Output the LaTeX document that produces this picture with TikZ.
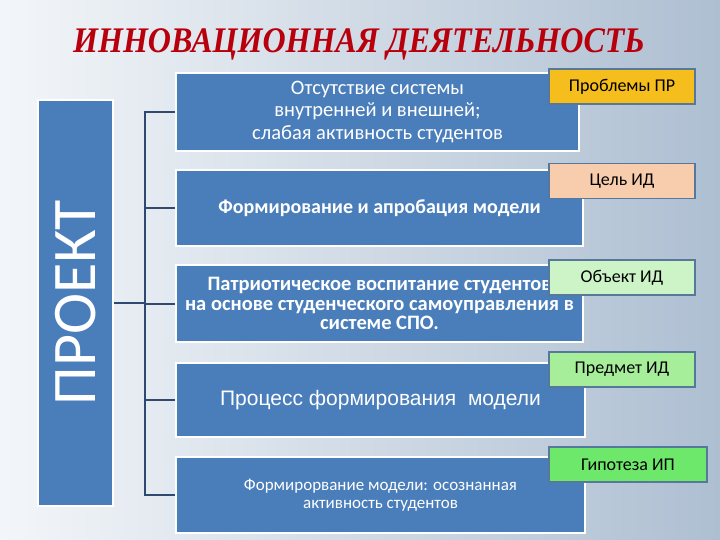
\documentclass[tikz,border=0pt]{standalone}
\usepackage{fontspec}
\setmainfont{Carlito}
\newfontfamily\titlefont{Liberation Serif}
\newfontfamily\arialfont{Liberation Sans}
\definecolor{bgleft}{HTML}{F3F6F9}
\definecolor{bgright}{HTML}{AEBFD2}
\definecolor{boxblue}{HTML}{4A7EBB}
\definecolor{linkblue}{HTML}{2E4A70}
\definecolor{tagline}{HTML}{56789A}
\definecolor{titlered}{HTML}{B8000C}
\definecolor{tagA}{HTML}{F5BE1C}
\definecolor{tagB}{HTML}{F8CDAE}
\definecolor{tagC}{HTML}{CCF4C6}
\definecolor{tagD}{HTML}{A6EE9A}
\definecolor{tagE}{HTML}{6EE86A}
\begin{document}
\begin{tikzpicture}[x=1pt,y=-1pt,
    mainbox/.style={draw=white,line width=2pt,fill=boxblue,text=white,align=center,inner sep=2pt},
    tagbox/.style={draw=tagline,line width=1.5pt,minimum height=35pt,inner sep=2pt,font=\fontsize{18}{20}\selectfont},
    link/.style={draw=linkblue,line width=2pt}]
    \useasboundingbox (0,0) rectangle (720,540);
    \shade[left color=bgleft,right color=bgright] (0,0) rectangle (720,540);

    \node[text=titlered,font=\titlefont\bfseries\itshape\fontsize{36}{40}\selectfont]
        (title) at (359,44) {\scalebox{0.89}[1]{ИННОВАЦИОННАЯ ДЕЯТЕЛЬНОСТЬ}};

    \node[mainbox,minimum width=75pt,minimum height=405pt] (proj) at (75.5,303)
        {\rotatebox{90}{\fontsize{62}{62}\selectfont ПРОЕКТ}};

    \node[mainbox,minimum width=403pt,minimum height=78pt,font=\fontsize{20.5}{22.5}\selectfont]
        (b1) at (377.5,112) {Отсутствие системы\\внутренней и внешней;\\слабая активность студентов};
    \node[mainbox,minimum width=407pt,minimum height=76pt,font=\bfseries\fontsize{20}{22}\selectfont]
        (b2) at (379.5,208) {Формирование и апробация модели};
    \node[mainbox,minimum width=407pt,minimum height=77pt,font=\bfseries\fontsize{20.5}{19.5}\selectfont]
        (b3) at (379.5,303.5) {Патриотическое воспитание студентов\\на основе студенческого самоуправления в\\системе СПО.};
    \node[mainbox,minimum width=409pt,minimum height=74pt,font=\arialfont\fontsize{21}{22}\selectfont]
        (b4) at (380.5,400) {Процесс формирования\ \ модели};
    \node[mainbox,minimum width=409pt,minimum height=76pt,font=\fontsize{17}{18.5}\selectfont]
        (b5) at (380.5,495) {Формирорвание модели: осознанная\\активность студентов};

    \coordinate (bus) at (145,0);
    \draw[link] (proj.east) -- (proj.east -| bus);
    \draw[link] (b1.west) -- (b1.west -| bus) |- (b5.west);
    \draw[link] (b2.west) -- (b2.west -| bus);
    \draw[link] (b3.west) -- (b3.west -| bus);
    \draw[link] (b4.west) -- (b4.west -| bus);

    \node[tagbox,fill=tagA,minimum width=146pt] (t1) at (622,86.5) {Проблемы ПР};
    \node[tagbox,fill=tagB,minimum width=146pt] (t2) at (622,181) {Цель ИД};
    \node[tagbox,fill=tagC,minimum width=146pt] (t3) at (622,277.5) {Объект ИД};
    \node[tagbox,fill=tagD,minimum width=146pt] (t4) at (622,369.5) {Предмет ИД};
    \node[tagbox,fill=tagE,minimum width=158pt] (t5) at (628,464.5) {Гипотеза ИП};
\end{tikzpicture}
\end{document}
